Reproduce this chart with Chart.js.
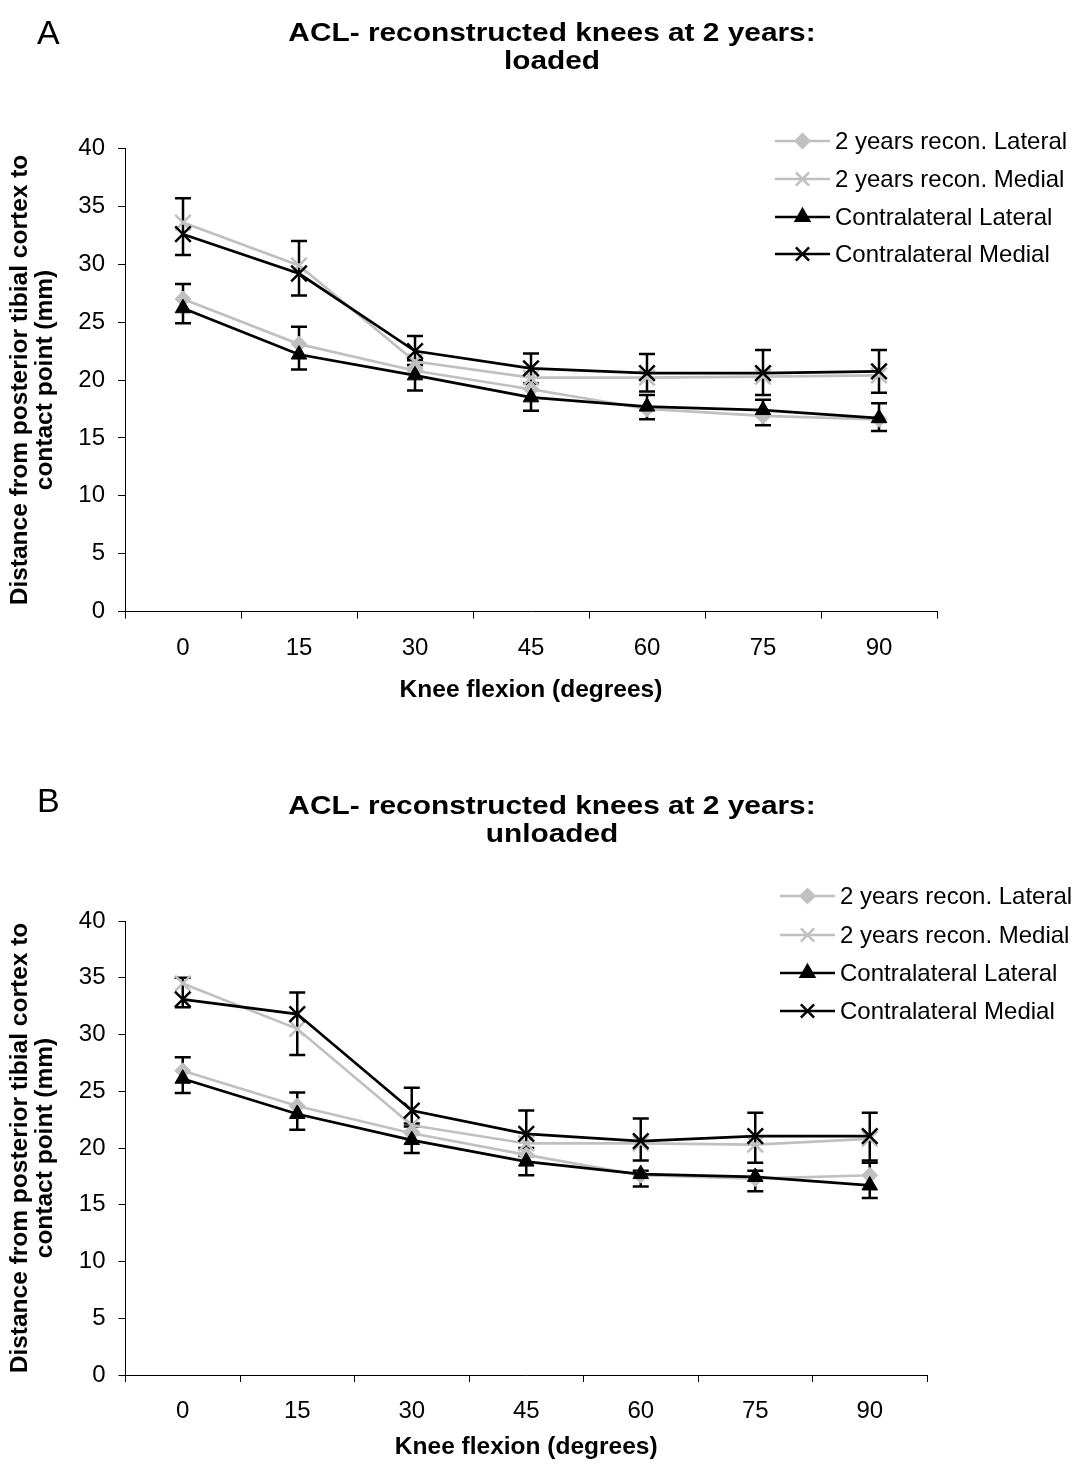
<!DOCTYPE html>
<html>
<head>
<meta charset="utf-8">
<script src="https://cdn.jsdelivr.net/npm/chart.js@4.4.1/dist/chart.umd.min.js"></script>
<style>
  body { margin: 0; background: #fff; }
  .panel { position: absolute; left: 0; width: 1089px; height: 734px; }
</style>
</head>
<body>
<div class="panel" style="top:0"><canvas id="loaded" width="1089" height="734"></canvas></div>
<div class="panel" style="top:734px"><canvas id="unloaded" width="1089" height="734"></canvas></div>
<script>
const flexion = ["0", "15", "30", "45", "60", "75", "90"];
const seriesNames = ["2 years recon. Lateral", "2 years recon. Medial", "Contralateral Lateral", "Contralateral Medial"];

// loaded (A)
const loadedReconLat = [27.0, 23.1, 20.8, 19.2, 17.5, 16.9, 16.6];
const loadedReconMed = [33.6, 29.9, 21.6, 20.2, 20.2, 20.3, 20.4];
const loadedContraLat = [26.2, 22.2, 20.4, 18.5, 17.7, 17.4, 16.7];
const loadedContraMed = [32.6, 29.2, 22.5, 21.0, 20.6, 20.6, 20.75];
const loadedLatLo = [24.9, 20.9, 19.1, 17.35, 16.6, 16.1, 15.6];
const loadedLatHi = [28.3, 24.6, 21.7, 19.7, 18.7, 18.3, 18.0];
const loadedMedLo = [30.8, 27.3, 21.3, 19.7, 19.0, 18.7, 18.9];
const loadedMedHi = [35.7, 32.0, 23.8, 22.3, 22.25, 22.6, 22.6];

// unloaded (B)
const unloadedReconLat = [26.8, 23.7, 21.3, 19.4, 17.6, 17.3, 17.6];
const unloadedReconMed = [34.5, 30.5, 22.0, 20.4, 20.4, 20.3, 20.8];
const unloadedContraLat = [26.1, 23.0, 20.7, 18.8, 17.7, 17.45, 16.7];
const unloadedContraMed = [33.1, 31.8, 23.3, 21.25, 20.6, 21.05, 21.05];
const unloadedLatLo = [24.85, 21.6, 19.55, 17.6, 16.6, 16.2, 15.6];
const unloadedLatHi = [28.0, 24.9, 21.9, 20.0, 18.0, 18.0, 18.7];
const unloadedMedLo = [32.4, 28.2, 22.15, 19.3, 18.9, 18.7, 18.9];
const unloadedMedHi = [35.0, 33.7, 25.3, 23.3, 22.6, 23.1, 23.1];

const FONT = "'Liberation Sans', Arial, sans-serif";
const GRAY = "#c0c0c0";
const W = 1089, H = 734;

function makeDatasets(reconLat, reconMed, contraLat, contraMed, latLo, latHi, medLo, medHi) {
  return [
    { label: seriesNames[0], data: reconLat, borderColor: GRAY, backgroundColor: GRAY,
      pointStyle: "rectRot", pointRadius: 8, pointBorderWidth: 1, order: 2 },
    { label: seriesNames[1], data: reconMed, borderColor: GRAY, backgroundColor: GRAY,
      pointStyle: "crossRot", pointRadius: 11, pointBorderWidth: 2.5, order: 2 },
    { label: seriesNames[2], data: contraLat, borderColor: "#000", backgroundColor: "#000",
      pointStyle: "triangle", pointRadius: 9, pointBorderWidth: 1, order: 1,
      errLo: latLo, errHi: latHi },
    { label: seriesNames[3], data: contraMed, borderColor: "#000", backgroundColor: "#000",
      pointStyle: "crossRot", pointRadius: 11, pointBorderWidth: 2.5, order: 1,
      errLo: medLo, errHi: medHi }
  ].map(d => Object.assign({ borderWidth: 2.7, tension: 0, fill: false }, d));
}

// vertical error bars with caps, drawn under the lines
const errorBars = {
  id: "errorBars",
  beforeDatasetsDraw(chart) {
    const ctx = chart.ctx, y = chart.scales.y;
    ctx.save();
    ctx.strokeStyle = "#000";
    ctx.lineWidth = 2.5;
    chart.data.datasets.forEach((ds, i) => {
      if (!ds.errLo) return;
      chart.getDatasetMeta(i).data.forEach((pt, j) => {
        const lo = y.getPixelForValue(ds.errLo[j]);
        const hi = y.getPixelForValue(ds.errHi[j]);
        ctx.beginPath();
        ctx.moveTo(pt.x, lo); ctx.lineTo(pt.x, hi);
        ctx.moveTo(pt.x - 8, lo); ctx.lineTo(pt.x + 8, lo);
        ctx.moveTo(pt.x - 8, hi); ctx.lineTo(pt.x + 8, hi);
        ctx.stroke();
      });
    });
    ctx.restore();
  }
};

// panel letter, title, axis titles and legend
const decorations = {
  id: "decorations",
  afterDraw(chart) {
    const o = chart.config.options.plugins.decorations;
    const ctx = chart.ctx, area = chart.chartArea;
    ctx.save();
    ctx.fillStyle = "#000";
    ctx.textBaseline = "alphabetic";

    ctx.font = "34px " + FONT;
    ctx.textAlign = "left";
    ctx.fillText(o.letter, 37, o.letterY);

    ctx.font = "bold 25.5px " + FONT;
    ctx.textAlign = "center";
    o.title.forEach((line, k) => {
      ctx.save();
      ctx.translate(552, o.titleY[k]);
      ctx.scale(1.17, 1);
      ctx.fillText(line, 0, 0);
      ctx.restore();
    });

    ctx.font = "bold 24.5px " + FONT;
    ctx.textBaseline = "middle";
    const cy = (area.top + area.bottom) / 2;
    ["Distance from posterior tibial cortex to", "contact point (mm)"].forEach((line, k) => {
      ctx.save();
      ctx.translate(k === 0 ? 20 : 45, cy);
      ctx.rotate(-Math.PI / 2);
      ctx.fillText(line, 0, 0);
      ctx.restore();
    });
    ctx.fillText("Knee flexion (degrees)", (area.left + area.right) / 2, o.xTitleY);

    // legend: line segment with marker, then name
    ctx.textAlign = "left";
    ctx.font = "24px " + FONT;
    chart.data.datasets.forEach((ds, k) => {
      const ly = o.legendY[k];
      ctx.strokeStyle = ds.borderColor;
      ctx.lineWidth = 2.5;
      ctx.beginPath();
      ctx.moveTo(o.legendX, ly); ctx.lineTo(o.legendX + 55, ly);
      ctx.stroke();
      ctx.fillStyle = ds.backgroundColor;
      Chart.helpers.drawPoint(ctx, {
        pointStyle: ds.pointStyle, radius: ds.pointRadius * 0.85,
        rotation: 0, borderWidth: ds.pointBorderWidth
      }, o.legendX + 27.5, ly);
      ctx.fillStyle = "#000";
      ctx.fillText(ds.label, o.legendX + 60, ly + 1);
    });
    ctx.restore();
  }
};

function makeChart(id, datasets, area, deco) {
  return new Chart(document.getElementById(id), {
    type: "line",
    data: { labels: flexion, datasets: datasets },
    plugins: [errorBars, decorations],
    options: {
      responsive: false,
      animation: false,
      layout: { padding: { left: 0, top: area.top, right: W - area.right, bottom: 0 } },
      plugins: { legend: { display: false }, tooltip: { enabled: false }, decorations: deco },
      scales: {
        x: {
          offset: true,
          grid: { offset: true, drawOnChartArea: false, tickLength: 7, color: "#000", lineWidth: 1 },
          border: { color: "#000", width: 1 },
          ticks: { color: "#000", font: { family: FONT, size: 24 }, padding: 15, maxRotation: 0 },
          afterFit: s => { s.height = H - area.bottom; }
        },
        y: {
          min: 0, max: 40,
          grid: { drawOnChartArea: false, tickLength: 7, color: "#000", lineWidth: 1 },
          border: { color: "#000", width: 1 },
          ticks: { stepSize: 5, color: "#000", font: { family: FONT, size: 24 }, padding: 13 },
          afterFit: s => { s.width = area.left; }
        }
      }
    }
  });
}

makeChart("loaded",
  makeDatasets(loadedReconLat, loadedReconMed, loadedContraLat, loadedContraMed,
               loadedLatLo, loadedLatHi, loadedMedLo, loadedMedHi),
  { left: 125, top: 148.5, right: 937, bottom: 611.5 },
  { letter: "A", letterY: 44, title: ["ACL- reconstructed knees at 2 years:", "loaded"], titleY: [41, 69],
    xTitleY: 690, legendX: 775, legendY: [141, 179, 217, 254] });

makeChart("unloaded",
  makeDatasets(unloadedReconLat, unloadedReconMed, unloadedContraLat, unloadedContraMed,
               unloadedLatLo, unloadedLatHi, unloadedMedLo, unloadedMedHi),
  { left: 125.5, top: 187, right: 927, bottom: 641 },
  { letter: "B", letterY: 78, title: ["ACL- reconstructed knees at 2 years:", "unloaded"], titleY: [80, 108],
    xTitleY: 713, legendX: 780, legendY: [162, 201, 239, 277] });
</script>
</body>
</html>
